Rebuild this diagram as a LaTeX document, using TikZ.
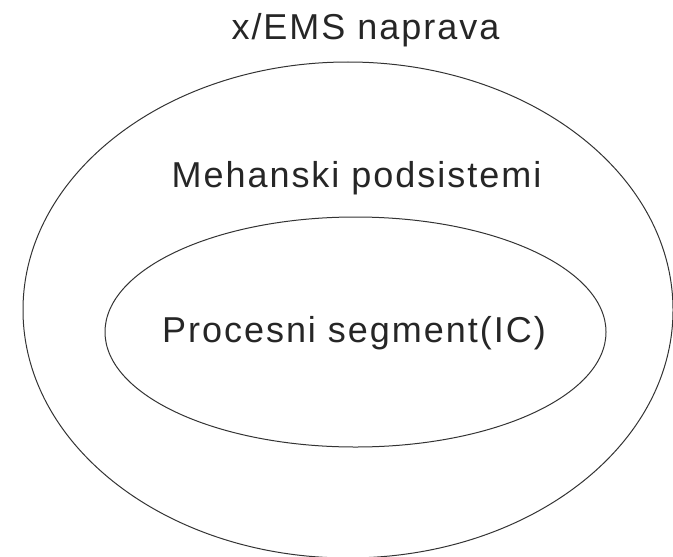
\documentclass[tikz,border=0pt]{standalone}
\usepackage{fontspec}
\setmainfont[LetterSpace=5.5]{Liberation Sans}
\tikzset{
  label text/.style={anchor=base, inner sep=0pt, font=\fontsize{18}{22}\selectfont, text=black!85},
  ring/.style={draw=black!80, line width=0.5pt}
}
\begin{document}
\begin{tikzpicture}[x=0.5pt, y=-0.5pt]
  \useasboundingbox (0,0) rectangle (673,556);

  % outer and inner system
  \draw [ring] (348,310) ellipse [x radius=325, y radius=248];
  \draw [ring] (355.5,332) ellipse [x radius=250.5, y radius=115];

  \node [label text] (device) at (365.5,40) {x/EMS naprava};
  \node [label text] (mech) at (356.5,187) {Mehanski podsistemi};
  \node [label text] (proc) at (354,342) {Procesni segment(IC)};
\end{tikzpicture}
\end{document}
